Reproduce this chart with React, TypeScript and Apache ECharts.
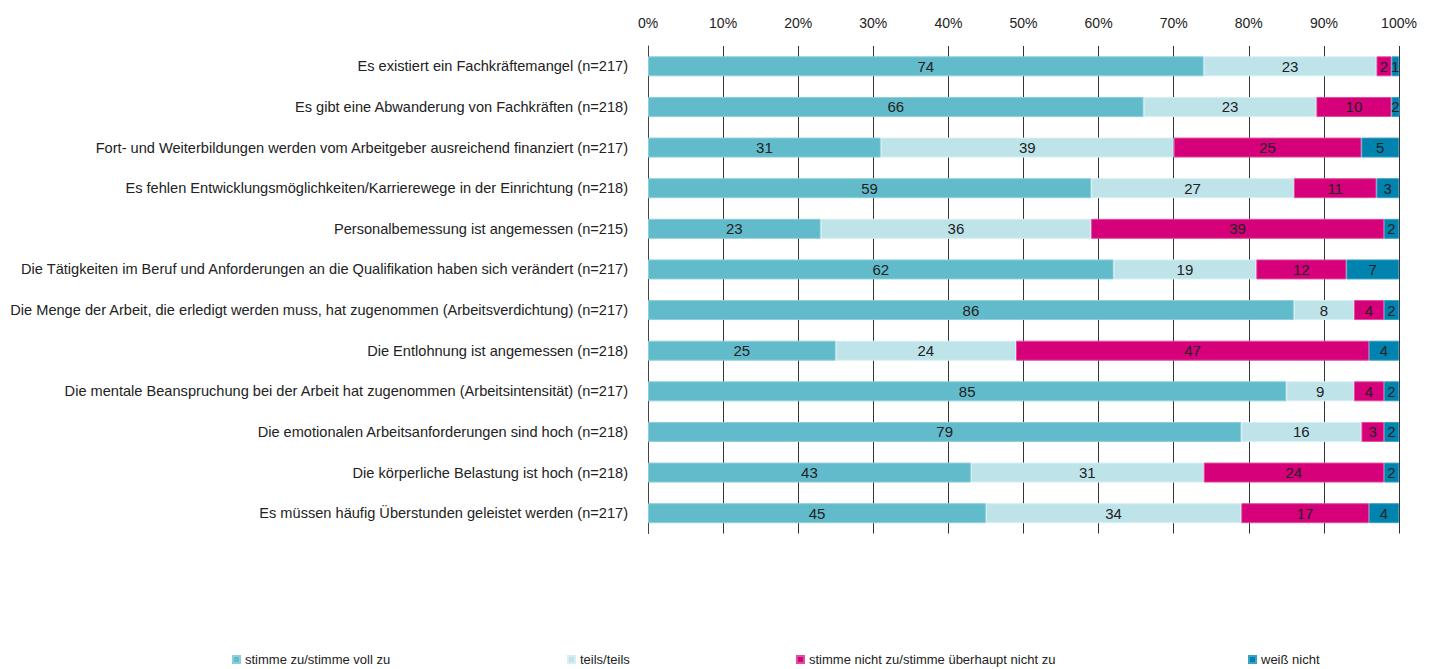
import React, { useEffect, useRef } from "react";
import * as echarts from "echarts";

const categories = [
  "Es existiert ein Fachkräftemangel (n=217)",
  "Es gibt eine Abwanderung von Fachkräften (n=218)",
  "Fort- und Weiterbildungen werden vom Arbeitgeber ausreichend finanziert (n=217)",
  "Es fehlen Entwicklungsmöglichkeiten/Karrierewege in der Einrichtung (n=218)",
  "Personalbemessung ist angemessen (n=215)",
  "Die Tätigkeiten im Beruf und Anforderungen an die Qualifikation haben sich verändert (n=217)",
  "Die Menge der Arbeit, die erledigt werden muss, hat zugenommen (Arbeitsverdichtung) (n=217)",
  "Die Entlohnung ist angemessen (n=218)",
  "Die mentale Beanspruchung bei der Arbeit hat zugenommen (Arbeitsintensität) (n=217)",
  "Die emotionalen Arbeitsanforderungen sind hoch (n=218)",
  "Die körperliche Belastung ist hoch (n=218)",
  "Es müssen häufig Überstunden geleistet werden (n=217)",
];

const seriesNames = [
  "stimme zu/stimme voll zu",
  "teils/teils",
  "stimme nicht zu/stimme überhaupt nicht zu",
  "weiß nicht",
];

const zustimmung = [74, 66, 31, 59, 23, 62, 86, 25, 85, 79, 43, 45];
const teils = [23, 23, 39, 27, 36, 19, 8, 24, 9, 16, 31, 34];
const ablehnung = [2, 10, 25, 11, 39, 12, 4, 47, 4, 3, 24, 17];
const weissNicht = [1, 2, 5, 3, 2, 7, 2, 4, 2, 2, 2, 4];

const colors = ["#62BBCB", "#BEE4EA", "#D5007A", "#0083AF"];
const borderColors = ["#8ACFDB", "#D6EFF3", "#E04D9E", "#3AA0C4"];

const FONT = "'Liberation Sans Narrow', 'Arial Narrow', 'Liberation Sans', sans-serif";

export default function App() {
  const ref = useRef<HTMLDivElement>(null);
  useEffect(() => {
    document.body.style.margin = "0";
    if (!ref.current) return;
    const chart = echarts.init(ref.current, undefined, { renderer: "svg" });
    const data = [zustimmung, teils, ablehnung, weissNicht];
    const legendLefts = [232, 567, 796, 1248];
    chart.setOption({
      animation: false,
      textStyle: { fontFamily: FONT },
      grid: { left: 648, right: 34, top: 46, bottom: 135.5, containLabel: false },
      legend: seriesNames.map((n, i) => ({
        data: [n],
        left: legendLefts[i],
        top: 653,
        padding: 0,
        icon: "rect",
        itemWidth: 7,
        itemHeight: 7,
        itemGap: 4,
        textStyle: { fontFamily: FONT, fontSize: 13, color: "#222" },
        selectedMode: false,
      })),
      xAxis: {
        type: "value",
        position: "top",
        min: 0,
        max: 100,
        interval: 10,
        axisLabel: {
          formatter: "{value}%",
          fontFamily: FONT,
          fontSize: 14,
          color: "#222",
          margin: 16,
        },
        axisLine: { show: false },
        axisTick: { show: false },
        splitLine: { show: true, lineStyle: { color: "#333", width: 1 } },
      },
      yAxis: {
        type: "category",
        inverse: true,
        data: categories,
        axisLine: { show: true, lineStyle: { color: "#444" } },
        axisTick: { show: false },
        axisLabel: {
          fontFamily: FONT,
          fontSize: 14.6,
          color: "#222",
          margin: 20,
        },
      },
      series: seriesNames.map((n, i) => ({
        name: n,
        type: "bar",
        stack: "total",
        barWidth: 20,
        data: data[i],
        itemStyle: { color: colors[i], borderColor: borderColors[i], borderWidth: 1 },
        label: {
          show: true,
          position: "inside",
          fontFamily: FONT,
          fontSize: 15,
          color: "#222",
        },
      })),
    });
    return () => chart.dispose();
  }, []);
  return <div ref={ref} style={{ width: 1433, height: 669 }} />;
}
